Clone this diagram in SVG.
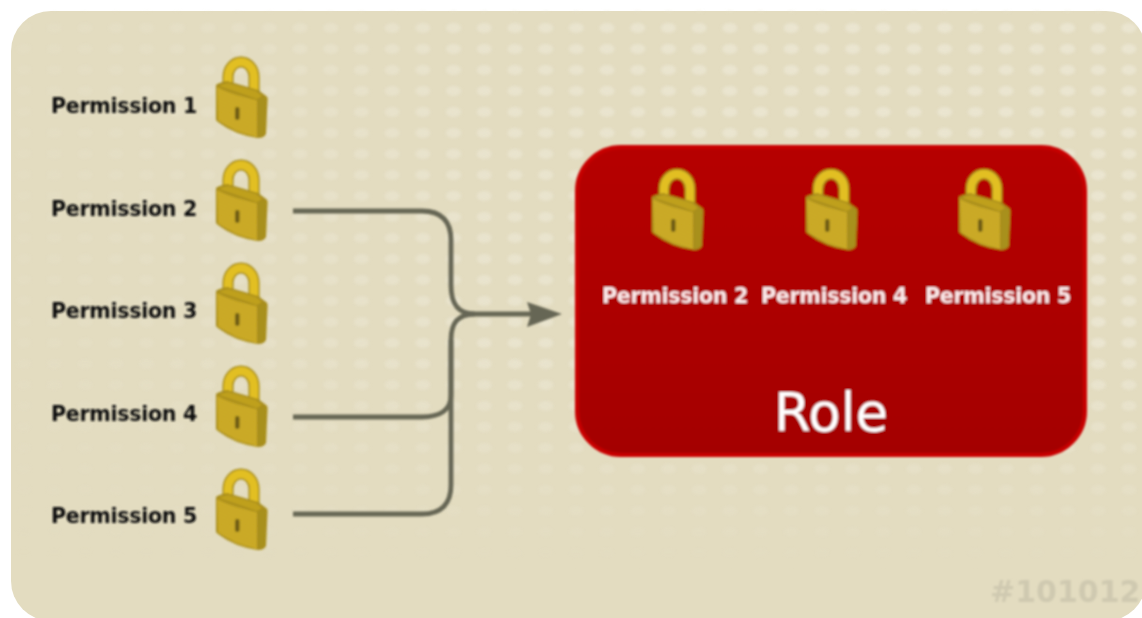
<svg xmlns="http://www.w3.org/2000/svg" width="1142" height="618" viewBox="0 0 1142 618">
<style>
.lbl{font-family:"DejaVu Sans",sans-serif;font-weight:700;font-size:20.6px;letter-spacing:-.3px;fill:#111}
.lbl-w{font-family:"DejaVu Sans",sans-serif;font-weight:700;font-size:20.6px;letter-spacing:-.3px;fill:#fbeaea;text-anchor:middle}
.wire{fill:none;stroke:#666655;stroke-width:4.8}
</style>
<defs>
<filter id="soft" filterUnits="userSpaceOnUse" x="0" y="0" width="1142" height="618"><feGaussianBlur stdDeviation="0.8"/></filter>
<filter id="softer" filterUnits="userSpaceOnUse" x="0" y="0" width="1142" height="618"><feGaussianBlur stdDeviation="1.4"/></filter>
<pattern id="dots" patternUnits="userSpaceOnUse" x="300" y="28" width="30.7" height="21"><ellipse cx="0" cy="0" rx="7.500" ry="5" fill="#ebe6d2"/><ellipse cx="30.7" cy="0" rx="7.500" ry="5" fill="#ebe6d2"/><ellipse cx="0" cy="21" rx="7.500" ry="5" fill="#ebe6d2"/><ellipse cx="30.7" cy="21" rx="7.500" ry="5" fill="#ebe6d2"/></pattern>
<linearGradient id="fadeY" x1="0" y1="11" x2="0" y2="618" gradientUnits="userSpaceOnUse"><stop offset="0" stop-color="#fff"/><stop offset=".55" stop-color="#fff"/><stop offset=".92" stop-color="#000"/></linearGradient>
<linearGradient id="fadeX" x1="0" y1="0" x2="1142" y2="0" gradientUnits="userSpaceOnUse"><stop offset="0" stop-color="#222"/><stop offset=".2" stop-color="#555"/><stop offset=".4" stop-color="#b5b5b5"/><stop offset=".7" stop-color="#e0e0e0"/></linearGradient>
<mask id="maskY" maskUnits="userSpaceOnUse" x="0" y="0" width="1142" height="618"><rect width="1142" height="618" fill="url(#fadeY)"/></mask>
<mask id="maskX" maskUnits="userSpaceOnUse" x="0" y="0" width="1142" height="618"><rect width="1142" height="618" fill="url(#fadeX)"/></mask>
<linearGradient id="rolefill" x1="0" y1="145" x2="0" y2="457" gradientUnits="userSpaceOnUse"><stop offset="0" stop-color="#b60000"/><stop offset="1" stop-color="#a40000"/></linearGradient>
<pattern id="hatch" patternUnits="userSpaceOnUse" width="3" height="3" patternTransform="rotate(22)"><rect width="3" height="1.500" fill="#a08410" opacity=".45"/></pattern>
<g id="lock">
<path d="M228 90V77A13 15 0 0 1 254 77V99" fill="none" stroke="#a78c1b" stroke-width="11"/>
<path d="M228 90V77A13 15 0 0 1 254 77V99" fill="none" stroke="#e2bf23" stroke-width="8"/>
<path d="M216 85Q218 83 227 81L258 90L266 96Q268 97 267.500 100L266 134Q264 138 258 138Q235 135 218 122L216 120Z" fill="#a78c1b"/>
<path d="M219 86Q222 84 228 83L256 91L262 96L257 99Z" fill="#bfa01d"/>
<path d="M217 87Q236 96 257 100L257 137Q235 133 218 120Z" fill="#d6b42c"/>
<path d="M217 87Q236 96 257 100L257 137Q235 133 218 120Z" fill="url(#hatch)"/>
<path d="M259 99L266 97L264.500 134L259 136Z" fill="#a8901a"/>
<rect x="235" y="107" width="4.500" height="13" rx="2.200" fill="#6f5d12"/>
</g>
</defs>
<rect id="backdrop" x="11" y="11" width="1135" height="610" rx="40" ry="40" fill="#e3dcc0"/>
<g mask="url(#maskY)"><rect x="11" y="11" width="1135" height="610" rx="40" ry="40" fill="url(#dots)" mask="url(#maskX)" filter="url(#softer)"/></g>
<text x="990" y="602" font-family="'DejaVu Sans',sans-serif" font-weight="700" font-size="30" fill="#cfc9b0" filter="url(#soft)">#101012</text>
<g id="connectors" filter="url(#soft)">
<path class="wire" d="M293 211H422C442 211 451 222 451 240V285C451 303 457 314 475 314H532"/>
<path class="wire" d="M293 417H422C440 417 451 410 451 395V340C451 324 457 314 475 314"/>
<path class="wire" d="M293 514H422C442 514 451 503 451 485V340"/>
<path d="M527 302L562 314L527 327L531 314Z" fill="#666655"/>
</g>
<g id="permission-1" filter="url(#soft)"><text class="lbl" x="51" y="113">Permission 1</text><use href="#lock"/></g>
<g id="permission-2" filter="url(#soft)"><text class="lbl" x="51" y="216">Permission 2</text><use href="#lock" y="103"/></g>
<g id="permission-3" filter="url(#soft)"><text class="lbl" x="51" y="318">Permission 3</text><use href="#lock" y="206"/></g>
<g id="permission-4" filter="url(#soft)"><text class="lbl" x="51" y="421">Permission 4</text><use href="#lock" y="309"/></g>
<g id="permission-5" filter="url(#soft)"><text class="lbl" x="51" y="523">Permission 5</text><use href="#lock" y="412"/></g>
<g id="role" filter="url(#soft)">
<rect x="577" y="147" width="508" height="308" rx="44" ry="44" fill="url(#rolefill)" stroke="#c80000" stroke-width="4"/>
<use href="#lock" x="436" y="112"/>
<use href="#lock" x="590" y="112"/>
<use href="#lock" x="743" y="112"/>
<text class="lbl-w" x="675" y="303">Permission 2</text>
<text class="lbl-w" x="834" y="303">Permission 4</text>
<text class="lbl-w" x="998" y="303">Permission 5</text>
<text x="831" y="431" font-family="'DejaVu Sans',sans-serif" font-size="53" fill="#fff" text-anchor="middle">Role</text>
</g>
</svg>
